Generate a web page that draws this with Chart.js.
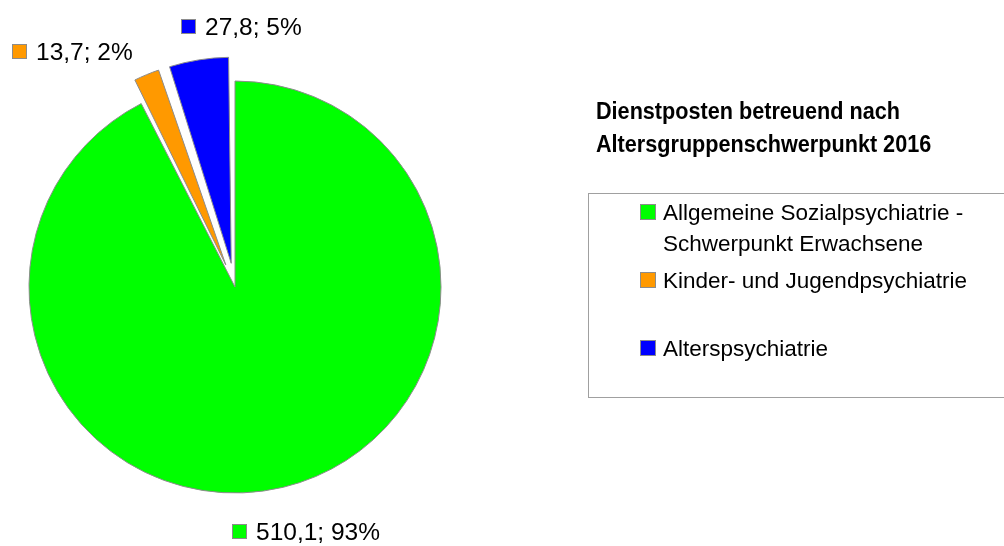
<!DOCTYPE html>
<html><head><meta charset="utf-8">
<script src="https://cdn.jsdelivr.net/npm/chart.js@4/dist/chart.umd.min.js"></script>
<style>html,body{margin:0;padding:0;background:#fff;}canvas{display:block;}</style>
</head><body>
<canvas id="c" width="1004" height="546"></canvas>
<script>
const categories = ['Allgemeine Sozialpsychiatrie - Schwerpunkt Erwachsene', 'Kinder- und Jugendpsychiatrie', 'Alterspsychiatrie'];
const values = [510.1, 13.7, 27.8];
const percentLabels = [93, 2, 5];
const colors = ['#00ff00', '#ff9900', '#0000ff'];
const titleLines = ['Dienstposten betreuend nach', 'Altersgruppenschwerpunkt 2016'];

const LABEL_FONT = '24.5px "Liberation Sans", Arial, sans-serif';
const TITLE_FONT = 'bold 23px "Liberation Sans", Arial, sans-serif';
const TITLE_SX = 0.94;
const LEGEND_FONT = '22.5px "Liberation Sans", Arial, sans-serif';
const LEGEND_SX = 1.0;
// per-label placement style: distance from slice centre and horizontal anchor fraction
const labelStyle = [{r: 251, f: 0.42}, {r: 231, f: 1.037}, {r: 240, f: 0.1}];

function fmt(v){ return v.toFixed(1).replace('.', ','); }
function scaledText(ctx, t, x, y, sx){
  ctx.save(); ctx.translate(x, y); ctx.scale(sx, 1); ctx.fillText(t, 0, 0); ctx.restore();
}

// keep exploded slices at the same radius as the rest (Chart.js enlarges offset arcs)
const keepRadius = {
  id: 'keepRadius',
  beforeDatasetsDraw(chart){
    const meta = chart.getDatasetMeta(0);
    const base = meta.controller.outerRadius;
    meta.data.forEach(arc => {
      const off = (arc.options.offset || 0) / 4;
      const fix = 1 - Math.sin(Math.min(Math.PI, arc.circumference || 0));
      arc.outerRadius = base - off * fix;
    });
  }
};

const dataLabels = {
  id: 'dataLabels',
  afterDatasetsDraw(chart){
    const ctx = chart.ctx;
    const meta = chart.getDatasetMeta(0);
    const ds = chart.data.datasets[0];
    ctx.save();
    ctx.font = LABEL_FONT;
    ctx.textBaseline = 'alphabetic';
    ctx.textAlign = 'left';
    meta.data.forEach((arc, i) => {
      const p = arc.getProps(['x','y','startAngle','endAngle'], true);
      const mid = (p.startAngle + p.endAngle)/2;
      const off = (ds.offset[i] || 0) / 4;
      const cx = p.x + Math.cos(mid)*off, cy = p.y + Math.sin(mid)*off;
      const st = labelStyle[i];
      const ax = cx + Math.cos(mid)*st.r, ay = cy + Math.sin(mid)*st.r;
      const text = fmt(ds.data[i]) + '; ' + percentLabels[i] + '%';
      const tw = ctx.measureText(text).width;
      const box = 15, gap = 9;
      const w = box + gap + tw;
      const x0 = Math.round(ax - w*st.f);
      const by = Math.round(ay - box/2);
      ctx.fillStyle = ds.backgroundColor[i];
      ctx.fillRect(x0, by, box, box);
      ctx.strokeStyle = '#8c8c8c'; ctx.lineWidth = 1;
      ctx.strokeRect(x0 + 0.5, by + 0.5, box - 1, box - 1);
      ctx.fillStyle = '#000';
      ctx.fillText(text, x0 + box + gap, ay + 8.8);
    });
    ctx.restore();
  }
};

const sideLegend = {
  id: 'sideLegend',
  afterDraw(chart){
    const ctx = chart.ctx;
    const ds = chart.data.datasets[0];
    ctx.save();
    ctx.fillStyle = '#000';
    ctx.textBaseline = 'alphabetic';
    ctx.textAlign = 'left';
    ctx.font = TITLE_FONT;
    titleLines.forEach((t, i) => scaledText(ctx, t, 596, 119 + i*33, TITLE_SX));
    ctx.strokeStyle = '#a0a0a0'; ctx.lineWidth = 1;
    ctx.strokeRect(588.5, 193.5, 430, 204);
    ctx.font = LEGEND_FONT;
    chart.data.labels.forEach((lab, i) => {
      const words = lab.split(' ');
      const lines = []; let cur = '';
      words.forEach(w => {
        const t = cur ? cur + ' ' + w : w;
        if (ctx.measureText(t).width * LEGEND_SX > 320 && cur) { lines.push(cur); cur = w; } else cur = t;
      });
      lines.push(cur);
      const base = 220 + i*68;
      const sy = base - 16;
      ctx.fillStyle = ds.backgroundColor[i];
      ctx.fillRect(640, sy, 16, 16);
      ctx.strokeStyle = '#8c8c8c';
      ctx.strokeRect(640.5, sy + 0.5, 15, 15);
      ctx.fillStyle = '#000';
      lines.forEach((l, k) => scaledText(ctx, l, 663, base + k*31, LEGEND_SX));
    });
    ctx.restore();
  }
};

new Chart(document.getElementById('c'), {
  type: 'pie',
  data: {
    labels: categories,
    datasets: [{
      data: values,
      backgroundColor: colors,
      borderColor: '#8c8c8c',
      borderWidth: 1,
      offset: [0, 96, 96]
    }]
  },
  options: {
    responsive: false,
    animation: false,
    radius: 206,
    layout: {padding: {left: 0, right: 534, top: 60, bottom: 32}},
    plugins: {legend: {display: false}, tooltip: {enabled: false}, title: {display: false}}
  },
  plugins: [keepRadius, dataLabels, sideLegend]
});
</script>
</body></html>
